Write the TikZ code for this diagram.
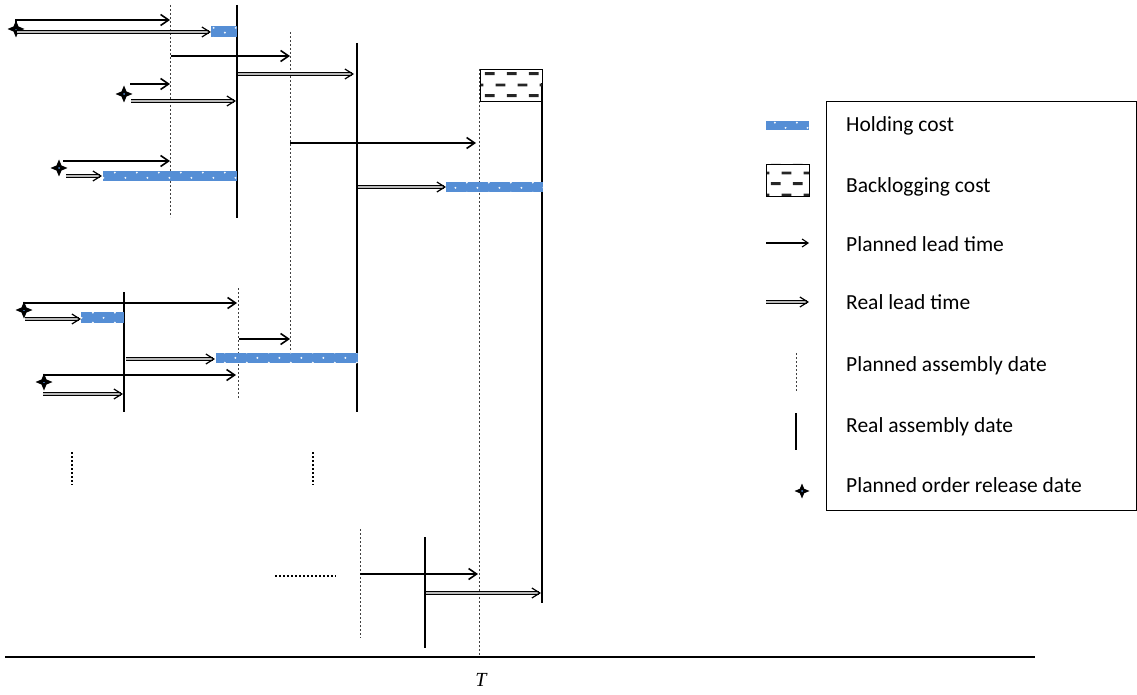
\documentclass[tikz,border=0pt]{standalone}
\usepackage{fontspec}
\setmainfont{Carlito}
\newfontfamily\tfont{Liberation Serif}
\usetikzlibrary{arrows.meta,patterns.meta,shapes.geometric}
\definecolor{holdblue}{HTML}{558ED5}
\tikzdeclarepattern{
  name=holddots, type=uncolored,
  bounding box={(0pt,0pt) and (22pt,10pt)},
  tile size={(22pt,10pt)},
  code={\pgfpathcircle{\pgfpoint{5pt}{2.5pt}}{1.1pt}\pgfpathcircle{\pgfpoint{16pt}{7.5pt}}{1.1pt}\pgfusepath{fill}}
}
\tikzdeclarepattern{
  name=backdash, type=uncolored,
  bounding box={(0pt,0pt) and (22pt,22pt)},
  tile size={(22pt,22pt)},
  code={\pgfpathrectangle{\pgfpoint{1pt}{4pt}}{\pgfpoint{10pt}{3pt}}\pgfpathrectangle{\pgfpoint{12pt}{15pt}}{\pgfpoint{10pt}{3pt}}\pgfusepath{fill}}
}
\begin{document}
\begin{tikzpicture}[x=1pt,y=-1pt,
  planned/.style={line width=2.5pt,-{Straight Barb[length=8pt,width=11pt,line width=1.6pt]}},
  plannedleg/.style={line width=1.4pt,-{Straight Barb[length=6pt,width=8pt,line width=1.1pt]}},
  real/.style={double=gray!55,double distance=1.4pt,line width=1pt,-{Straight Barb[length=8pt,width=10pt,line width=1.2pt]}},
  padate/.style={draw=black!75,line width=0.9pt,dash pattern=on 2pt off 2pt},
  radate/.style={line width=2.8pt},
  hold/.style={fill=holdblue,postaction={pattern=holddots,pattern color=white!92!holdblue}},
  backlog/.style={draw=black,line width=0.9pt,pattern=backdash,pattern color=black!85},
  dotline/.style={line width=2.2pt,dash pattern=on 2pt off 2pt},
  relstar/.style={star,star points=4,star point ratio=2.4,minimum size=17pt,inner sep=0pt,fill=black,
    path picture={\fill[holdblue] (path picture bounding box.center) circle (1pt);}},
  legtext/.style={anchor=base west,inner sep=0pt,font=\fontsize{21.5}{26}\selectfont}
]
\useasboundingbox (0,0) rectangle (1137,695);

% ---- assembly dates (vertical lines)
\draw[padate] (170,5) -- (170,217);
\draw[radate] (237,5) -- (237,218);
\draw[padate] (290,32) -- (290,352);
\draw[radate] (357,43) -- (357,412);
\draw[padate] (479,69) -- (479,657);
\draw[radate] (542,83) -- (542,603);
\draw[padate] (238,288) -- (238,398);
\draw[radate] (124,292) -- (124,412);
\draw[padate] (360,529) -- (360,638);
\draw[radate] (425,537) -- (425,648);

% ---- cost blocks
\path[hold] (211,26) rectangle (237,37);
\path[hold] (103,171) rectangle (237,181);
\path[hold] (446,182) rectangle (543,192);
\path[hold] (81,312) rectangle (124,323);
\path[hold] (216,353) rectangle (358,363);
\path[backlog] (480,69) rectangle (542,101);

% ---- stars
\node[relstar] (s1) at (16,29) {};
\node[relstar] (s2) at (124,94) {};
\node[relstar] (s3) at (59,168) {};
\node[relstar] (s4) at (24,310) {};
\node[relstar] (s5) at (44,382) {};

% ---- group 1
\draw[planned] (s1.center) |- (170,20);
\draw[real] (17,32) -- (211,32);
\draw[planned] (171,56) -- (290,56);
\draw[real] (238,74) -- (354,74);
\draw[planned] (130,84) -- (170,84);
\draw[real] (131,101) -- (236,101);
\draw[planned] (63,161) -- (170,161);
\draw[real] (66,176) -- (102,176);
\draw[planned] (290,143) -- (476,143);
\draw[real] (358,187) -- (446,187);

% ---- group 2
\draw[planned] (s4.center) |- (237,303);
\draw[real] (25,319) -- (81,319);
\draw[planned] (239,339) -- (290,339);
\draw[real] (126,359) -- (215,359);
\draw[planned] (s5.center) |- (236,375);
\draw[real] (43,394) -- (123,394);

% ---- continuation dots
\draw[dotline] (72,452) -- (72,485);
\draw[dotline] (313,452) -- (313,485);
\draw[dotline] (275,576) -- (336,576);

% ---- last group
\draw[planned] (360,574) -- (478,574);
\draw[real] (426,593) -- (541,593);

% ---- time axis
\draw[line width=1.5pt] (5,657) -- (1035,657);
\node[inner sep=0pt,font=\tfont\itshape\fontsize{20}{24}\selectfont] (T) at (481,680) {T};

% ---- legend
\draw[line width=0.9pt] (826,101) rectangle (1136.5,510);
\path[hold] (766,121) rectangle (809,130);
\path[backlog] (766,164) rectangle (809,196);
\draw[plannedleg] (766,243) -- (809,243);
\draw[real] (766,302) -- (809,302);
\draw[padate,line width=0.8pt] (796,353) -- (796,392);
\draw[radate,line width=2.4pt] (796,413) -- (796,450);
\node[relstar,minimum size=15pt] (ls) at (802,491) {};
\node[legtext] (l1) at (846,132) {Holding cost};
\node[legtext] (l2) at (846,193) {Backlogging cost};
\node[legtext] (l3) at (846,251) {Planned lead time};
\node[legtext] (l4) at (846,309) {Real lead time};
\node[legtext] (l5) at (846,371) {Planned assembly date};
\node[legtext] (l6) at (846,432) {Real assembly date};
\node[legtext] (l7) at (846,492) {Planned order release date};
\end{tikzpicture}
\end{document}
